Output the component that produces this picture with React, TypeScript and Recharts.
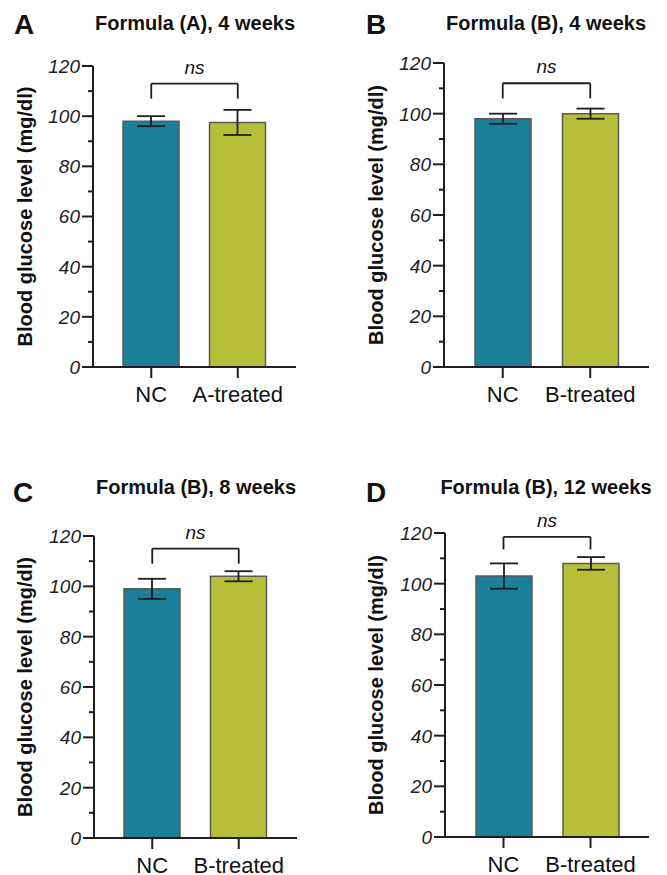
import { BarChart, Bar, XAxis, YAxis, Cell, ErrorBar, ReferenceLine } from 'recharts'

const FONT = '"Liberation Sans", Arial, Helvetica, sans-serif'
const INK = '#1e1e1e'

const panelLetters = ['A', 'B', 'C', 'D']
const panelTitles = ['Formula (A), 4 weeks', 'Formula (B), 4 weeks', 'Formula (B), 8 weeks', 'Formula (B), 12 weeks']
const groupNames = [
  ['NC', 'A-treated'],
  ['NC', 'B-treated'],
  ['NC', 'B-treated'],
  ['NC', 'B-treated'],
]
const meanValues = [
  [98, 97.5],
  [98, 100],
  [99, 104],
  [103, 108],
]
const errorValues = [
  [2, 5],
  [2, 2],
  [4, 2],
  [5, 2.5],
]
const bracketTop = [113, 112, 115, 118.5]
const bracketLeg = [107, 106, 109, 113.5]
const yTicks = [0, 10, 20, 30, 40, 50, 60, 70, 80, 90, 100, 110, 120]

const BAR_COLORS = ['#1a7f97', '#b6bf38']

// panel frame: origin on page, plot box inside panel
const frames = [
  { left: 0, top: 0, axisX: 93, plotTop: 66, plotBottom: 367, plotRight: 296, labelX: 25, letterX: 14, titleCx: 195, letterY: 25, titleY: 23 },
  { left: 334, top: 0, axisX: 110, plotTop: 63, plotBottom: 367, plotRight: 315, labelX: 42, letterX: 32, titleCx: 212, letterY: 25, titleY: 23 },
  { left: 0, top: 460, axisX: 94, plotTop: 76, plotBottom: 378, plotRight: 297, labelX: 25, letterX: 13, titleCx: 196, letterY: 33, titleY: 27 },
  { left: 334, top: 460, axisX: 111, plotTop: 73, plotBottom: 377, plotRight: 315, labelX: 42, letterX: 32, titleCx: 212, letterY: 33, titleY: 27 },
]

const W = 333
const H = 415
const X_AXIS_H = 36

function YTick({ x, y, payload }: any) {
  const major = payload.value % 20 === 0
  return (
    <g>
      <line x1={x - (major ? 11 : 5)} x2={x} y1={y} y2={y} stroke={INK} strokeWidth={2} />
      {major && (
        <text x={x - 13} y={y} dy="0.36em" textAnchor="end" fontStyle="italic" fontSize={19} fill={INK} fontFamily={FONT}>
          {payload.value}
        </text>
      )}
    </g>
  )
}

function Panel({ idx }: { idx: number }) {
  const f = frames[idx]
  const data = groupNames[idx].map((name, i) => ({ name, value: meanValues[idx][i], err: errorValues[idx][i] }))
  const [g1, g2] = groupNames[idx]
  return (
    <div style={{ position: 'absolute', left: f.left, top: f.top, width: W, height: H }}>
      <div style={{ position: 'absolute', left: f.letterX, top: f.letterY - 16, fontFamily: FONT, fontWeight: 700, fontSize: 28, lineHeight: '32px', color: '#111' }}>
        {panelLetters[idx]}
      </div>
      <div style={{ position: 'absolute', left: f.titleCx - 150, width: 300, top: f.titleY - 12, textAlign: 'center', fontFamily: FONT, fontWeight: 700, fontSize: 20, lineHeight: '24px', color: '#111' }}>
        {panelTitles[idx]}
      </div>
      <BarChart
        width={W}
        height={H}
        data={data}
        style={{ overflow: 'visible' }}
        margin={{ top: f.plotTop, left: 0, right: W - f.plotRight, bottom: H - f.plotBottom - X_AXIS_H }}
      >
        <XAxis
          dataKey="name"
          height={X_AXIS_H}
          padding={{ left: 15, right: 15 }}
          axisLine={{ stroke: INK, strokeWidth: 2 }}
          tickLine={{ stroke: INK, strokeWidth: 2 }}
          tickSize={11}
          tickMargin={8}
          tick={{ fontSize: 22, fill: '#111', fontFamily: FONT }}
        />
        <YAxis
          width={f.axisX}
          domain={[0, 120]}
          ticks={yTicks}
          interval={0}
          tickSize={0}
          tickMargin={0}
          tickLine={false}
          axisLine={{ stroke: INK, strokeWidth: 2 }}
          tick={<YTick />}
          label={{
            content: ({ viewBox }: any) => {
              const cy = viewBox.y + viewBox.height / 2
              return (
                <text
                  x={f.labelX}
                  y={cy}
                  transform={`rotate(-90 ${f.labelX} ${cy})`}
                  textAnchor="middle"
                  dominantBaseline="central"
                  fontFamily={FONT}
                  fontWeight={700}
                  fontSize={20}
                  fill="#111"
                >
                  Blood glucose level (mg/dl)
                </text>
              )
            },
          }}
        />
        <Bar dataKey="value" barSize={56} stroke="#5a5a5a" strokeWidth={1.5} isAnimationActive={false}>
          {data.map((d, i) => (
            <Cell key={d.name} fill={BAR_COLORS[i]} />
          ))}
          <ErrorBar dataKey="err" width={14} stroke={INK} strokeWidth={1.8} direction="y" />
        </Bar>
        <ReferenceLine
          segment={[{ x: g1, y: bracketTop[idx] }, { x: g2, y: bracketTop[idx] }]}
          stroke={INK}
          strokeWidth={1.8}
          label={{ value: 'ns', position: 'top', offset: 10, fontStyle: 'italic', fontSize: 19, fill: '#111', fontFamily: FONT }}
        />
        <ReferenceLine segment={[{ x: g1, y: bracketLeg[idx] }, { x: g1, y: bracketTop[idx] }]} stroke={INK} strokeWidth={1.8} />
        <ReferenceLine segment={[{ x: g2, y: bracketLeg[idx] }, { x: g2, y: bracketTop[idx] }]} stroke={INK} strokeWidth={1.8} />
      </BarChart>
    </div>
  )
}

export default function App() {
  return (
    <div style={{ position: 'absolute', left: 0, top: 0, width: 667, height: 875, background: '#fff' }}>
      {panelLetters.map((_, i) => (
        <Panel key={i} idx={i} />
      ))}
    </div>
  )
}
